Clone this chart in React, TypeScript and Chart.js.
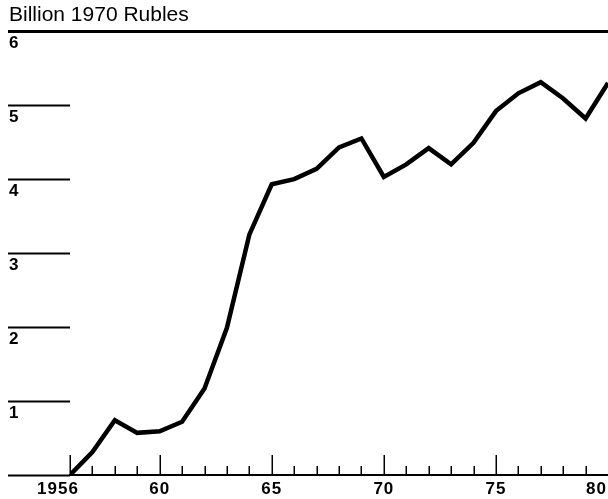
import React, { useEffect, useRef } from 'react';
import { Chart, registerables } from 'chart.js';

Chart.register(...registerables);

const titleText = 'Billion 1970 Rubles';

const years = [
  1956, 1957, 1958, 1959, 1960, 1961, 1962, 1963, 1964, 1965, 1966, 1967, 1968,
  1969, 1970, 1971, 1972, 1973, 1974, 1975, 1976, 1977, 1978, 1979, 1980,
];

const values = [
  0, 0.31, 0.74, 0.57, 0.59, 0.72, 1.17, 1.99, 3.25, 3.93, 4.0, 4.14, 4.43,
  4.55, 4.03, 4.2, 4.42, 4.2, 4.49, 4.92, 5.16, 5.31, 5.09, 4.82, 5.3,
];

const majorYears = [1956, 1960, 1965, 1970, 1975, 1980];
const xTickLabels = ['1956', '60', '65', '70', '75', '80'];

const yTickValues = [0, 1, 2, 3, 4, 5, 6];
const yTickLabels = ['', '1', '2', '3', '4', '5', '6'];

const FONT = '"Liberation Sans", Arial, Helvetica, sans-serif';

const xAxisMarks = {
  id: 'xAxisMarks',
  afterDatasetsDraw(chart: any) {
    const { ctx, chartArea } = chart;
    const x = chart.scales.x;
    const base = chartArea.bottom;
    ctx.save();
    ctx.strokeStyle = '#000';
    ctx.lineWidth = 1.5;
    years.forEach((yr) => {
      const raw = x.getPixelForValue(yr);
      if (raw > chartArea.right - 2) return;
      const px = Math.round(raw) + 0.25;
      const len = majorYears.includes(yr) ? 20 : 9;
      ctx.beginPath();
      ctx.moveTo(px, base);
      ctx.lineTo(px, base - len);
      ctx.stroke();
    });
    ctx.fillStyle = '#000';
    ctx.font = `bold 17px ${FONT}`;
    try {
      (ctx as any).letterSpacing = '1px';
    } catch (e) {}
    ctx.textBaseline = 'middle';
    majorYears.forEach((yr, i) => {
      let px = x.getPixelForValue(yr);
      let align: CanvasTextAlign = 'center';
      if (i === 0) px -= 12;
      if (i === majorYears.length - 1) {
        align = 'left';
        px -= 22;
      }
      ctx.textAlign = align;
      ctx.fillText(xTickLabels[i], px, base + 14);
    });
    ctx.restore();
  },
};

export default function App() {
  const ref = useRef<HTMLCanvasElement>(null);

  useEffect(() => {
    if (!ref.current) return;
    const chart = new Chart(ref.current, {
      type: 'line',
      data: {
        datasets: [
          {
            data: years.map((yr, i) => ({ x: yr, y: values[i] })),
            borderColor: '#000',
            borderWidth: 4.5,
            pointRadius: 0,
            pointHoverRadius: 0,
            tension: 0,
            borderJoinStyle: 'miter',
            borderCapStyle: 'butt',
            fill: false,
          },
        ],
      },
      options: {
        responsive: false,
        animation: false,
        events: [],
        layout: { padding: { left: 9, right: 0, top: 0, bottom: 0 } },
        plugins: {
          legend: { display: false },
          tooltip: { enabled: false },
          title: {
            display: true,
            text: titleText,
            align: 'start',
            color: '#000',
            font: { family: FONT, size: 21, weight: 'normal' as any },
            padding: { top: 3, bottom: 3 },
          },
        },
        scales: {
          x: {
            type: 'linear',
            min: 1956,
            max: 1980,
            ticks: { display: false },
            grid: { display: false },
            border: { display: true, color: '#000', width: 2 },
            afterFit: (s: any) => {
              s.height = 24;
              s.paddingLeft = 0;
              s.paddingRight = 0;
            },
          },
          y: {
            type: 'linear',
            min: 0,
            max: 6,
            ticks: {
              stepSize: 1,
              autoSkip: false,
              crossAlign: 'far',
              labelOffset: 12,
              color: '#000',
              font: { family: FONT, size: 17, weight: 'bold' },
              callback: (v: any) => {
                const idx = yTickValues.indexOf(Number(v));
                return idx >= 0 ? yTickLabels[idx] : '';
              },
            },
            grid: {
              drawOnChartArea: true,
              drawTicks: true,
              tickLength: 62,
              color: (c: any) => (c.tick && c.tick.value === 6 ? '#000' : 'rgba(0,0,0,0)'),
              lineWidth: (c: any) => (c.tick && c.tick.value === 6 ? 3 : 1),
              tickColor: '#000',
              tickWidth: (c: any) => (c.tick && c.tick.value === 6 ? 3 : 2),
            },
            border: { display: false },
            afterFit: (s: any) => {
              s.width = 61;
              s.paddingTop = 0;
              s.paddingBottom = 0;
            },
          },
        },
      },
      plugins: [xAxisMarks],
    });
    return () => chart.destroy();
  }, []);

  return (
    <div
      style={{
        position: 'fixed',
        left: 0,
        top: 0,
        width: 608,
        height: 499,
        background: '#fff',
        overflow: 'hidden',
      }}
    >
      <canvas ref={ref} width={608} height={499} style={{ display: 'block', width: 608, height: 499 }} />
    </div>
  );
}
